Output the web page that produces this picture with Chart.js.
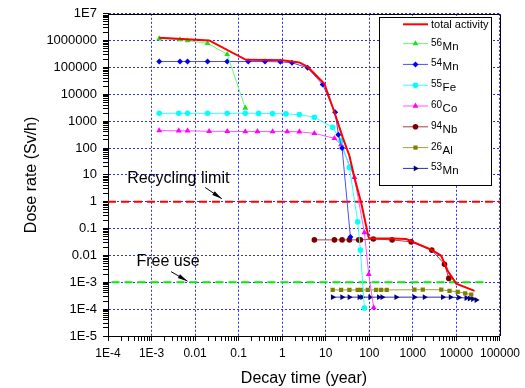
<!DOCTYPE html>
<html>
<head>
<meta charset="utf-8">
<script src="https://cdn.jsdelivr.net/npm/chart.js@4.4.1/dist/chart.umd.min.js"></script>
<style>
  html, body { margin: 0; padding: 0; background: #fff; }
  #wrap { width: 525px; height: 388px; }
</style>
</head>
<body>
<div id="wrap"><canvas id="doseChart" width="525" height="388"></canvas></div>
<script>
// axis ticks
const xTickValues = [1e-4, 1e-3, 1e-2, 1e-1, 1, 10, 100, 1000, 10000, 100000];
const xTickLabels = ['1E-4', '1E-3', '0.01', '0.1', '1', '10', '100', '1000', '10000', '100000'];
const yTickValues = [1e-5, 1e-4, 1e-3, 1e-2, 1e-1, 1, 10, 100, 1000, 1e4, 1e5, 1e6, 1e7];
const yTickLabels = ['1E-5', '1E-4', '1E-3', '0.01', '0.1', '1', '10', '100', '1000', '10000', '100000', '1000000', '1E7'];

// series (decay time in years, dose rate in Sv/h)
const totalTime = [0.0015, 0.021, 0.147, 0.5, 1.0, 2.47, 3.84, 9.3, 15.8, 24.5, 34.9, 45.4, 64.8, 97, 130, 330, 700, 914, 2717, 4480, 6300, 9890, 26100];
const totalDose = [1.28e6, 1.02e6, 1.94e5, 1.9e5, 1.88e5, 1.55e5, 1.05e5, 2.47e4, 2.15e3, 250, 52, 8, 0.94, 0.045, 0.043, 0.043, 0.041, 0.034, 0.016, 0.0097, 0.0027, 8.9e-4, 4.8e-4];

const mn56Time = [0.0015, 0.0045, 0.0067, 0.0193, 0.0547, 0.142];
const mn56Dose = [1.18e6, 1.1e6, 1.0e6, 8.0e5, 3.1e5, 3.1e3];

const mn54Time = [0.0015, 0.0045, 0.0067, 0.0193, 0.0547, 0.166, 0.402, 0.904, 1.68, 3.84, 8.49, 16.4, 19.5, 23.7, 36.8];
const mn54Dose = [1.67e5, 1.67e5, 1.67e5, 1.67e5, 1.67e5, 1.67e5, 1.67e5, 1.62e5, 1.5e5, 9.75e4, 2.32e4, 2.15e3, 316, 101, 0.049];

const fe55Time = [0.0015, 0.0042, 0.0067, 0.0193, 0.0547, 0.142, 0.287, 0.601, 1.22, 2.47, 5.47, 14.4, 22.5, 34.9, 54.1, 62.4, 77.1];
const fe55Dose = [1.97e3, 1.97e3, 1.97e3, 1.97e3, 1.97e3, 1.97e3, 1.95e3, 1.92e3, 1.87e3, 1.76e3, 1.4e3, 592, 189, 19, 0.18, 0.0158, 1.1e-4];

const co60Time = [0.0015, 0.0042, 0.0067, 0.021, 0.0547, 0.142, 0.27, 0.601, 1.3, 2.47, 5.47, 15.8, 22.5, 45.4, 77.1, 97, 126];
const co60Dose = [446, 440, 440, 420, 420, 410, 415, 410, 410, 405, 354, 230, 134, 8.07, 0.071, 0.002, 1.14e-4];

const nb94Time = [5.47, 15.8, 23.7, 34.9, 57, 62.4, 124, 334, 914, 2717, 5321, 6683];
const nb94Dose = [0.038, 0.038, 0.038, 0.038, 0.038, 0.038, 0.041, 0.038, 0.032, 0.0158, 0.0047, 0.0014];

const al26Time = [14.4, 22.5, 34.9, 54.1, 64.8, 91.8, 143, 187, 251, 1088, 1690, 4480, 6935, 10700, 15900, 21900];
const al26Dose = [5.2e-4, 5.2e-4, 5.2e-4, 5.2e-4, 5.2e-4, 5.2e-4, 5.2e-4, 5.2e-4, 5.2e-4, 5.3e-4, 5.3e-4, 5.3e-4, 4.8e-4, 4.4e-4, 3.9e-4, 3.5e-4];

const mn53Time = [14.4, 23.7, 34.9, 58.9, 68, 104, 164, 197, 413, 1088, 1848, 4864, 7310, 11350, 16800, 20000, 23800, 28500];
const mn53Dose = [2.8e-4, 2.8e-4, 2.8e-4, 2.8e-4, 2.8e-4, 2.8e-4, 2.8e-4, 2.8e-4, 2.8e-4, 2.8e-4, 2.8e-4, 2.8e-4, 2.8e-4, 2.7e-4, 2.6e-4, 2.5e-4, 2.4e-4, 2.2e-4];

// limits
const recyclingLimit = 1;
const freeUseLimit = 1e-3;

const GRID_BLUE = '#2b2bff';
const FONT = "Arial, 'Liberation Sans', sans-serif";

Chart.defaults.font.family = FONT;
Chart.defaults.color = '#000';

function pts(xs, ys) {
    return xs.map((x, i) => ({ x: x, y: ys[i] }));
}

function isDecade(v) {
    const l = Math.log10(v);
    return Math.abs(l - Math.round(l)) < 1e-9;
}

function logTicks(min, max) {
    const out = [];
    for (let e = Math.round(Math.log10(min)); e <= Math.round(Math.log10(max)); e++) {
        for (let m = 1; m <= 9; m++) {
            const v = m * Math.pow(10, e);
            if (v > max * 1.0001) break;
            out.push({ value: v });
        }
    }
    return out;
}

function tickLabel(value, values, labels) {
    const i = values.findIndex(v => Math.abs(v - value) / v < 1e-6);
    return i >= 0 ? labels[i] : '';
}

function series(label, xs, ys, line, mark, style, extra) {
    return Object.assign({
        label: label,
        data: pts(xs, ys),
        borderColor: line,
        backgroundColor: mark,
        pointBackgroundColor: mark,
        pointBorderColor: mark,
        borderWidth: 1,
        pointStyle: style,
        pointRadius: 3,
        pointBorderWidth: 0,
        tension: 0
    }, extra || {});
}

// legend drawn inside the plot with superscript mass numbers
const isoLegend = {
    id: 'isoLegend',
    afterDraw(chart) {
        const ctx = chart.ctx;
        const a = chart.chartArea;
        const l = a.right - 121, t = a.top + 3.5, w = 112, h = 168;
        ctx.save();
        ctx.fillStyle = '#fff';
        ctx.fillRect(l, t, w, h);
        ctx.strokeStyle = '#000';
        ctx.lineWidth = 1;
        ctx.strokeRect(Math.round(l) + 0.5, Math.round(t) + 0.5, w, h);

        chart.data.datasets.slice(0, 8).forEach((ds, i) => {
            const y = i === 0 ? t + 7 : t + 26.3 + (i - 1) * 20.8;
            ctx.strokeStyle = ds.borderColor;
            ctx.lineWidth = ds.borderWidth;
            ctx.beginPath();
            ctx.moveTo(l + 24, y);
            ctx.lineTo(l + 49, y);
            ctx.stroke();
            if (ds.pointRadius > 0) {
                ctx.fillStyle = ds.pointBackgroundColor;
                ctx.strokeStyle = ds.pointBorderColor;
                Chart.helpers.drawPoint(ctx, {
                    pointStyle: ds.pointStyle,
                    rotation: ds.pointRotation || 0,
                    radius: ds.pointRadius,
                    borderWidth: 0
                }, l + 36.5, y);
            }
            ctx.fillStyle = '#000';
            const m = /^(\d+)(.*)$/.exec(ds.label);
            if (m) {
                ctx.textBaseline = 'alphabetic';
                ctx.font = '10px ' + FONT;
                ctx.fillText(m[1], l + 52, y + 2);
                const sw = ctx.measureText(m[1]).width;
                ctx.font = '11.5px ' + FONT;
                ctx.fillText(m[2], l + 52 + sw + 0.5, y + 6);
            } else {
                ctx.textBaseline = 'middle';
                ctx.font = '11px ' + FONT;
                ctx.fillText(ds.label, l + 52, y + 1);
            }
        });
        ctx.restore();
    }
};

// closing frame + limit annotations
const notes = [
    { text: 'Recycling limit', x: 2.75e-4, y: 7.2, from: [0.017, 3.4], to: [0.041, 1.3] },
    { text: 'Free use', x: 4.5e-4, y: 5.9e-3, from: [2.8e-3, 2.5e-3], to: [6.7e-3, 1.1e-3] }
];

const frameAndNotes = {
    id: 'frameAndNotes',
    afterDatasetsDraw(chart) {
        const ctx = chart.ctx;
        const a = chart.chartArea;
        const sx = chart.scales.x, sy = chart.scales.y;
        ctx.save();
        ctx.strokeStyle = '#000';
        ctx.lineWidth = 1;
        ctx.beginPath();
        ctx.moveTo(a.left, Math.round(a.top) + 0.5);
        ctx.lineTo(Math.round(a.right) + 0.5, Math.round(a.top) + 0.5);
        ctx.lineTo(Math.round(a.right) + 0.5, a.bottom);
        ctx.stroke();

        notes.forEach(n => {
            ctx.fillStyle = '#000';
            ctx.font = '16px ' + FONT;
            ctx.textBaseline = 'middle';
            ctx.textAlign = 'left';
            ctx.fillText(n.text, sx.getPixelForValue(n.x), sy.getPixelForValue(n.y));
            const x1 = sx.getPixelForValue(n.from[0]), y1 = sy.getPixelForValue(n.from[1]);
            const x2 = sx.getPixelForValue(n.to[0]), y2 = sy.getPixelForValue(n.to[1]);
            const ang = Math.atan2(y2 - y1, x2 - x1);
            ctx.beginPath();
            ctx.moveTo(x1, y1);
            ctx.lineTo(x2, y2);
            ctx.stroke();
            ctx.beginPath();
            ctx.moveTo(x2, y2);
            ctx.lineTo(x2 - 10 * Math.cos(ang) + 2.2 * Math.sin(ang), y2 - 10 * Math.sin(ang) - 2.2 * Math.cos(ang));
            ctx.lineTo(x2 - 10 * Math.cos(ang) - 2.2 * Math.sin(ang), y2 - 10 * Math.sin(ang) + 2.2 * Math.cos(ang));
            ctx.closePath();
            ctx.fill();
        });
        ctx.restore();
    }
};

const gridColor = c => (c.tick && isDecade(c.tick.value)) ? GRID_BLUE : 'rgba(0,0,0,0)';

new Chart(document.getElementById('doseChart'), {
    type: 'line',
    data: {
        datasets: [
            series('total activity', totalTime, totalDose, '#ff0000', '#ff0000', 'circle', { borderWidth: 2, pointRadius: 0 }),
            series('56Mn', mn56Time, mn56Dose, '#66ff66', '#22dd22', 'triangle', { pointRadius: 3.4 }),
            series('54Mn', mn54Time, mn54Dose, '#4d4dff', '#0000ff', 'rectRot', { pointRadius: 3 }),
            series('55Fe', fe55Time, fe55Dose, '#33ffff', '#00ffff', 'circle', { pointRadius: 2.8 }),
            series('60Co', co60Time, co60Dose, '#ff55ff', '#ff00ff', 'triangle', { pointRadius: 3.4 }),
            series('94Nb', nb94Time, nb94Dose, '#a04545', '#800000', 'circle', { pointRadius: 2.8 }),
            series('26Al', al26Time, al26Dose, '#a0a040', '#808000', 'rect', { pointRadius: 3 }),
            series('53Mn', mn53Time, mn53Dose, '#3030a8', '#000080', 'triangle', { pointRadius: 3.4, pointRotation: 90 }),
            {
                label: 'Recycling limit',
                data: pts([1e-4, 1e5], [recyclingLimit, recyclingLimit]),
                borderColor: '#ff0000', borderWidth: 2, borderDash: [8, 5], pointRadius: 0
            },
            {
                label: 'Free use',
                data: pts([1.2e-4, 4.4e4], [freeUseLimit, freeUseLimit]),
                borderColor: '#00ee00', borderWidth: 2, borderDash: [8, 5], pointRadius: 0
            }
        ]
    },
    options: {
        responsive: false,
        animation: false,
        events: [],
        layout: { padding: { left: 0, top: 13, right: 25, bottom: 0 } },
        plugins: {
            legend: { display: false },
            tooltip: { enabled: false }
        },
        scales: {
            x: {
                type: 'logarithmic',
                min: 1e-4,
                max: 1e5,
                afterBuildTicks: s => { s.ticks = logTicks(1e-4, 1e5); },
                afterFit: s => { s.height = 52; },
                ticks: {
                    autoSkip: false,
                    maxRotation: 0,
                    padding: 5,
                    font: { size: 12 },
                    color: '#000',
                    callback: v => tickLabel(v, xTickValues, xTickLabels)
                },
                grid: { color: gridColor, lineWidth: 1, tickLength: 5, tickColor: '#000', tickWidth: 1 },
                border: { display: true, color: '#000', width: 1, dash: [2, 2] },
                title: {
                    display: true, text: 'Decay time (year)', color: '#000',
                    font: { size: 16, lineHeight: 1 }, padding: { top: 0, bottom: 1 }
                }
            },
            y: {
                type: 'logarithmic',
                min: 1e-5,
                max: 1e7,
                afterBuildTicks: s => { s.ticks = logTicks(1e-5, 1e7); },
                afterFit: s => { s.width = 108; },
                ticks: {
                    autoSkip: false,
                    padding: 6,
                    font: { size: 13 },
                    color: '#000',
                    callback: v => tickLabel(v, yTickValues, yTickLabels)
                },
                grid: { color: gridColor, lineWidth: 1, tickLength: 5, tickColor: '#000', tickWidth: 1 },
                border: { display: true, color: '#000', width: 1, dash: [2, 2] },
                title: {
                    display: true, text: 'Dose rate (Sv/h)', color: '#000',
                    font: { size: 16, lineHeight: 1 }, padding: { top: 24, bottom: 0 }
                }
            }
        }
    },
    plugins: [frameAndNotes, isoLegend]
});
</script>
</body>
</html>
